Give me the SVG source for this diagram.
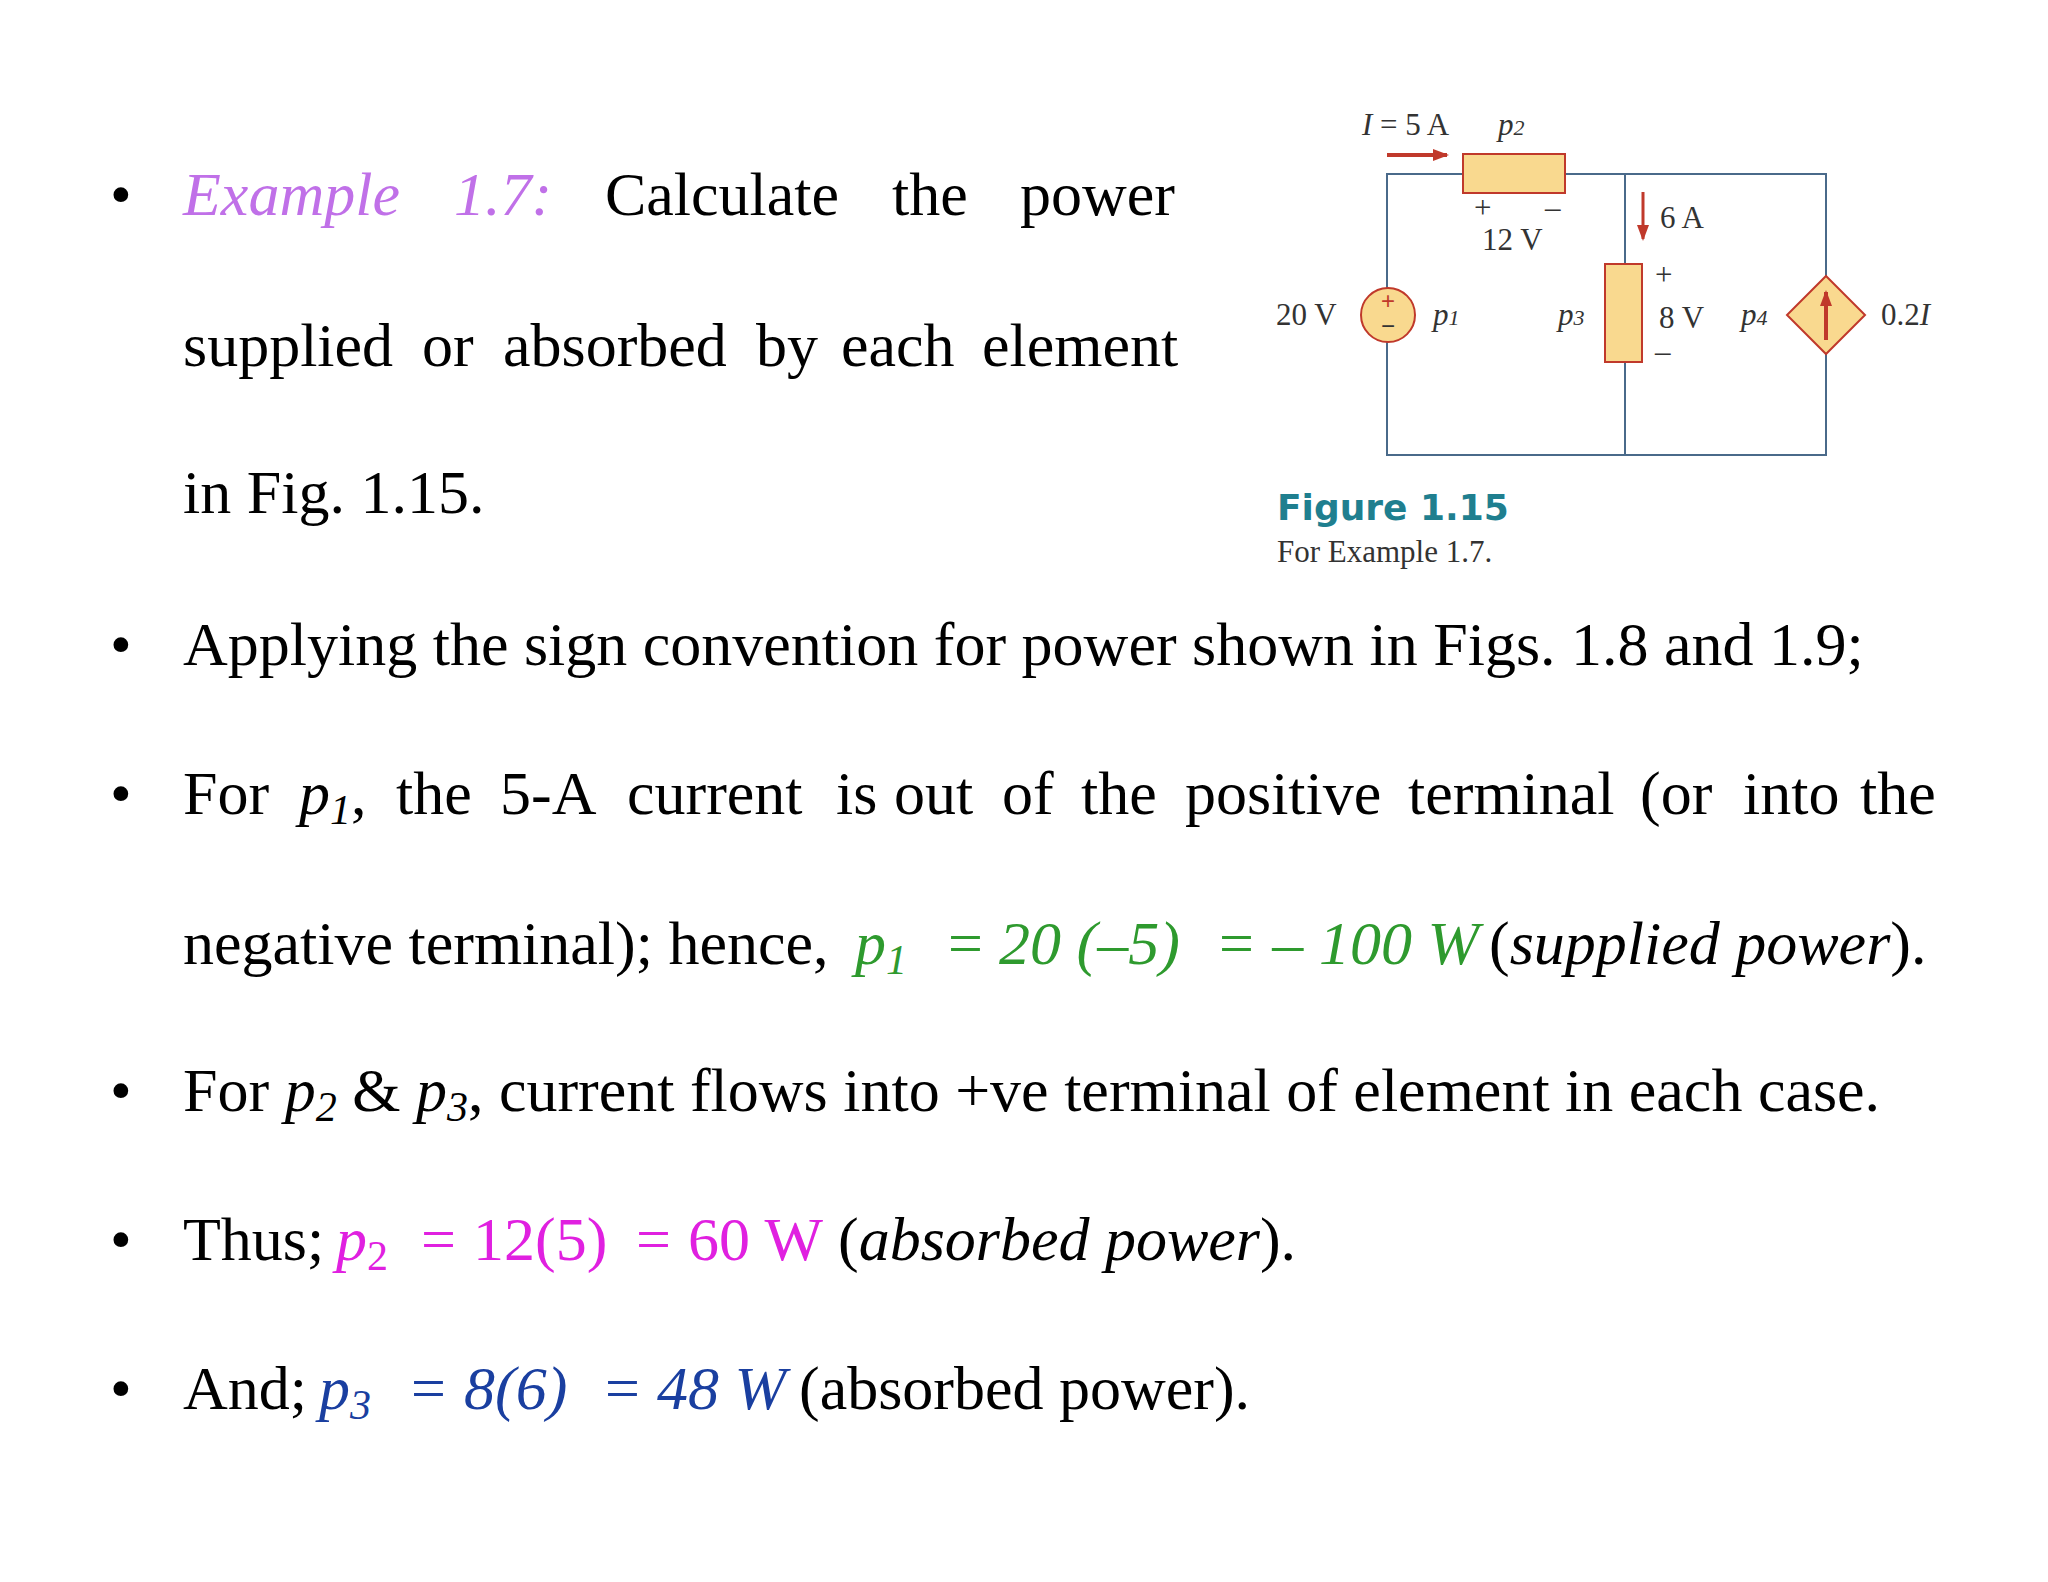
<svg xmlns="http://www.w3.org/2000/svg" width="2048" height="1582" viewBox="0 0 2048 1582">
<style>
.t{font-family:"Liberation Serif",serif;font-size:62px;fill:#000}
.i{font-style:italic}
.s{font-size:42px}
.c{font-family:"Liberation Serif",serif;font-size:31px;fill:#333}
.w{stroke:#4a6a8a;stroke-width:2;fill:none}
.el{fill:#f9d98f;stroke:#c0392b;stroke-width:2}
</style>
<defs>
<marker id="ah2" markerWidth="16" markerHeight="12" refX="14" refY="6" orient="auto" markerUnits="userSpaceOnUse"><path d="M0,0 L16,6 L0,12 Z" fill="#c0392b"/></marker></defs>
<rect width="2048" height="1582" fill="#fff"/>
<g id="connectors">
<path class="w" d="M1463,174 H1387 V455 H1826 V174 H1565 M1625,174 V455"/>
<line x1="1387" y1="155" x2="1447" y2="155" stroke="#c0392b" stroke-width="4" marker-end="url(#ah2)"/>
<line x1="1643" y1="192" x2="1643" y2="239" stroke="#c0392b" stroke-width="3" marker-end="url(#ah2)"/>
</g>
<g id="p2"><rect class="el" x="1463" y="154" width="102" height="39" stroke="#8a6a3a"/></g>
<g id="p3"><rect class="el" x="1605" y="264" width="37" height="98"/></g>
<g id="p1"><circle class="el" cx="1388" cy="315" r="27" stroke="#8a6a3a"/>
<text x="1388" y="309" text-anchor="middle" font-family="Liberation Sans,sans-serif" font-size="24" fill="#c0392b">+</text>
<text x="1388" y="334" text-anchor="middle" font-family="Liberation Sans,sans-serif" font-size="24" fill="#333">−</text></g>
<g id="p4"><path class="el" d="M1826,276 L1865,315 L1826,354 L1787,315 Z" stroke="#a08040"/>
<line x1="1826" y1="340" x2="1826" y2="292" stroke="#c0392b" stroke-width="4" marker-end="url(#ah2)"/></g>
<g id="labels">
<text class="c" x="1362" y="135"><tspan class="i">I</tspan> = 5 A</text>
<text class="c i" x="1498" y="135">p<tspan font-size="22">2</tspan></text>
<text class="c" x="1474" y="218" font-family="Liberation Sans,sans-serif" font-size="26">+</text>
<text class="c" x="1545" y="218" font-family="Liberation Sans,sans-serif" font-size="26">–</text>
<text class="c" x="1482" y="250">12 V</text>
<text class="c" x="1660" y="228">6 A</text>
<text class="c" x="1655" y="285" font-family="Liberation Sans,sans-serif" font-size="26">+</text>
<text class="c" x="1659" y="328">8 V</text>
<text class="c" x="1655" y="362" font-family="Liberation Sans,sans-serif" font-size="26">–</text>
<text class="c" x="1276" y="325">20 V</text>
<text class="c i" x="1433" y="325">p<tspan font-size="22">1</tspan></text>
<text class="c i" x="1558" y="325">p<tspan font-size="22">3</tspan></text>
<text class="c i" x="1741" y="325">p<tspan font-size="22">4</tspan></text>
<text class="c" x="1881" y="325">0.2<tspan class="i">I</tspan></text>
<text x="1277" y="520" font-family="DejaVu Sans,sans-serif" font-weight="bold" font-size="36" fill="#1f7f8f">Figure 1.15</text>
<text class="c" x="1277" y="562" font-size="35">For Example 1.7.</text>
</g>
<g id="text">
<g class="t"><text x="110" y="215">•</text><text x="110" y="665">•</text><text x="110" y="814">•</text><text x="110" y="1111">•</text><text x="110" y="1260">•</text><text x="110" y="1409">•</text></g>
<text class="t" y="215"><tspan class="i" fill="#c070e8" x="183">Example</tspan><tspan class="i" fill="#c070e8" x="454">1.7:</tspan><tspan x="605">Calculate</tspan><tspan x="892">the</tspan><tspan x="1020">power</tspan></text>
<text class="t" y="366"><tspan x="183">supplied</tspan><tspan x="422">or</tspan><tspan x="503">absorbed</tspan><tspan x="756">by</tspan><tspan x="841">each</tspan><tspan x="982">element</tspan></text>
<text class="t" x="183" y="513">in Fig. 1.15.</text>
<text class="t" x="183" y="665">Applying the sign convention for power shown in Figs. 1.8 and 1.9;</text>
<text class="t" y="814"><tspan x="183">For</tspan><tspan x="299" class="i">p</tspan><tspan class="i s" dy="10">1</tspan><tspan dy="-10">,</tspan><tspan x="396">the</tspan><tspan x="500">5-A</tspan><tspan x="627">current</tspan><tspan x="836">is</tspan><tspan x="894">out</tspan><tspan x="1002">of</tspan><tspan x="1081">the</tspan><tspan x="1185">positive</tspan><tspan x="1408">terminal</tspan><tspan x="1640">(or</tspan><tspan x="1743">into</tspan><tspan x="1860">the</tspan></text>
<text class="t" y="964"><tspan x="183">negative terminal); hence,</tspan><tspan class="i" fill="#2e9a2e"><tspan x="855">p</tspan><tspan class="s" dy="10">1</tspan><tspan x="944" dy="-10">=</tspan><tspan x="999">20 (–5)</tspan><tspan x="1215">= –</tspan><tspan x="1319">100 W</tspan></tspan><tspan x="1489">(</tspan><tspan class="i">supplied power</tspan>).</text>
<text class="t" y="1111"><tspan x="183">For </tspan><tspan class="i">p</tspan><tspan class="i s" dy="10">2</tspan><tspan dy="-10"> &amp; </tspan><tspan class="i">p</tspan><tspan class="i s" dy="10">3</tspan><tspan dy="-10">, current flows into +ve  terminal of element in each case.</tspan></text>
<text class="t" y="1260"><tspan x="183">Thus;</tspan><tspan fill="#e020e0"><tspan x="336" class="i">p</tspan><tspan class="s" dy="10">2</tspan><tspan x="421" dy="-10">=</tspan><tspan x="473">12(5)</tspan><tspan x="636">=</tspan><tspan x="688">60 W</tspan></tspan><tspan x="838">(</tspan><tspan class="i">absorbed power</tspan>).</text>
<text class="t" y="1409"><tspan x="183">And;</tspan><tspan fill="#1a3fa0" class="i"><tspan x="319">p</tspan><tspan class="s" dy="10">3</tspan><tspan x="407" dy="-10">=</tspan><tspan x="464">8(6)</tspan><tspan x="601">=</tspan><tspan x="657">48 W</tspan></tspan><tspan x="799">(absorbed power).</tspan></text>
</g>
</svg>
